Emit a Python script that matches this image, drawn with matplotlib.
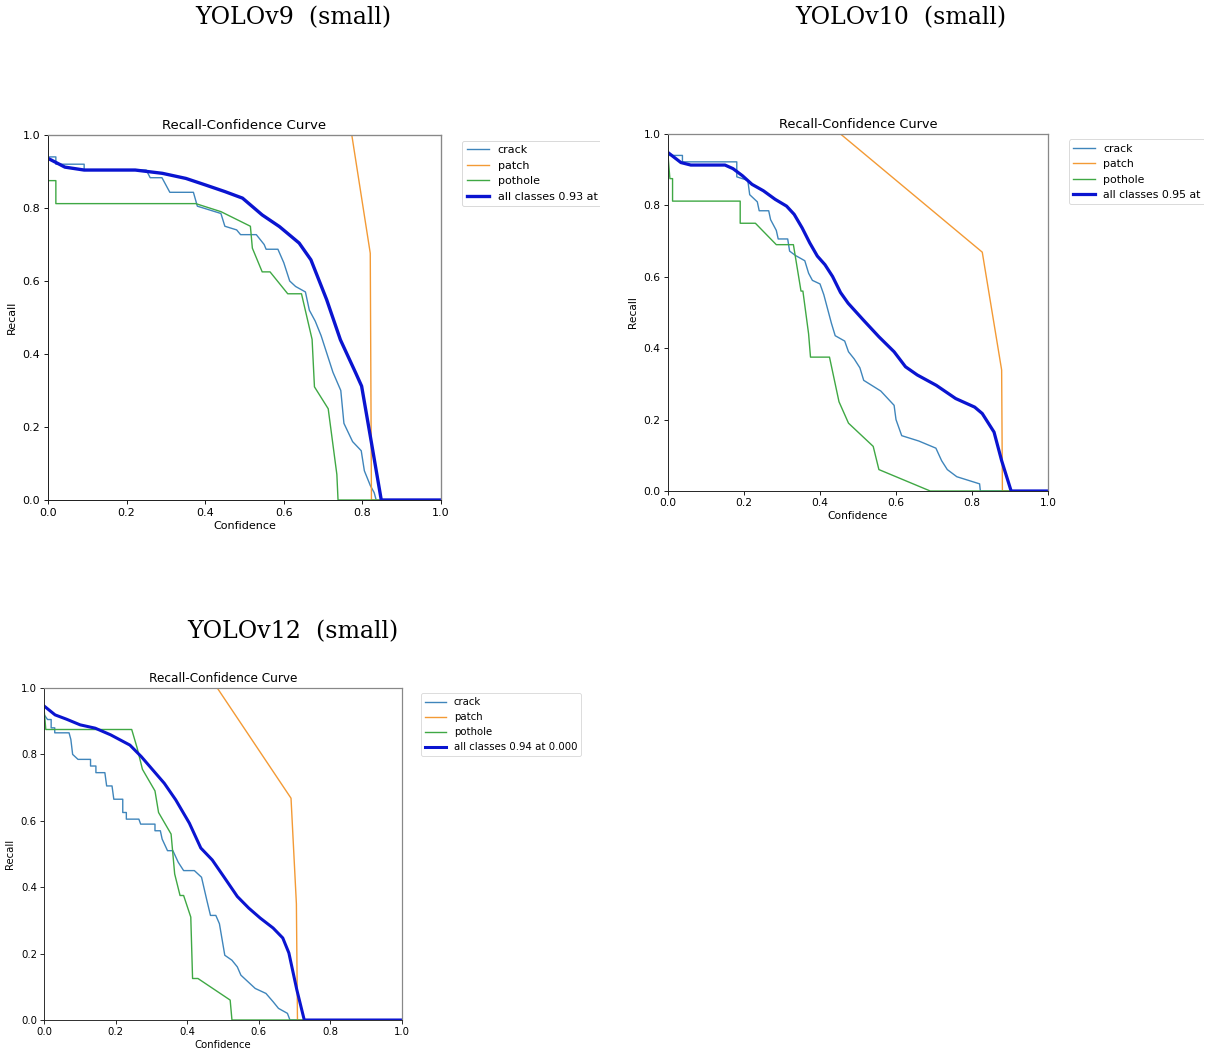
import matplotlib
matplotlib.use("Agg")
import matplotlib.pyplot as plt
from matplotlib.transforms import Bbox, TransformedBbox

# ---------------- data ----------------
classes = ["crack", "patch", "pothole"]
panel_titles = ["YOLOv9  (small)", "YOLOv10  (small)", "YOLOv12  (small)"]
# the first two legends are cut off at the image edge in the reference
all_labels = ["all classes 0.93 at", "all classes 0.95 at", "all classes 0.94 at 0.000"]

# YOLOv9
v9_crack_x = [0, 0.02, 0.02, 0.092, 0.092, 0.25, 0.26, 0.29, 0.31, 0.37, 0.38, 0.44, 0.45, 0.48, 0.49, 0.53,
              0.55, 0.555, 0.585, 0.60, 0.615, 0.63, 0.655, 0.665, 0.68, 0.695, 0.71, 0.725, 0.745, 0.753,
              0.775, 0.797, 0.805, 0.82, 0.83, 0.835, 1.0]
v9_crack_y = [0.94, 0.94, 0.92, 0.92, 0.904, 0.904, 0.883, 0.883, 0.843, 0.843, 0.805, 0.785, 0.75, 0.74, 0.727,
              0.727, 0.70, 0.687, 0.687, 0.65, 0.60, 0.585, 0.57, 0.52, 0.49, 0.45, 0.40, 0.35, 0.30, 0.21,
              0.16, 0.135, 0.08, 0.04, 0.02, 0.0, 0.0]
v9_patch_x = [0, 0.773, 0.820, 0.823, 1.0]
v9_patch_y = [1.0, 1.0, 0.676, 0.0, 0.0]
v9_pothole_x = [0, 0.02, 0.02, 0.376, 0.44, 0.515, 0.52, 0.545, 0.565, 0.61, 0.645, 0.672, 0.678, 0.713,
                0.735, 0.738, 1.0]
v9_pothole_y = [0.875, 0.875, 0.812, 0.812, 0.79, 0.75, 0.69, 0.625, 0.625, 0.565, 0.565, 0.44, 0.31, 0.25,
                0.07, 0.0, 0.0]
v9_all_x = [0, 0.043, 0.092, 0.222, 0.291, 0.351, 0.401, 0.450, 0.495, 0.545, 0.589, 0.639, 0.669, 0.709,
            0.744, 0.783, 0.798, 0.823, 0.848, 1.0]
v9_all_y = [0.936, 0.912, 0.904, 0.904, 0.895, 0.881, 0.863, 0.845, 0.827, 0.781, 0.749, 0.704, 0.658, 0.549,
            0.439, 0.348, 0.312, 0.157, 0.0, 0.0]

# YOLOv10
v10_crack_x = [0, 0.038, 0.038, 0.181, 0.181, 0.21, 0.215, 0.235, 0.24, 0.265, 0.27, 0.285, 0.29, 0.315,
               0.32, 0.335, 0.36, 0.37, 0.38, 0.40, 0.41, 0.42, 0.43, 0.44, 0.465, 0.475, 0.49, 0.505, 0.515,
               0.56, 0.595, 0.60, 0.615, 0.66, 0.705, 0.72, 0.735, 0.76, 0.82, 0.822, 1.0]
v10_crack_y = [0.94, 0.94, 0.922, 0.922, 0.88, 0.87, 0.83, 0.81, 0.785, 0.785, 0.76, 0.73, 0.706, 0.706,
               0.672, 0.66, 0.645, 0.61, 0.59, 0.58, 0.55, 0.51, 0.47, 0.435, 0.42, 0.39, 0.37, 0.345, 0.31,
               0.28, 0.24, 0.20, 0.155, 0.14, 0.12, 0.085, 0.06, 0.04, 0.02, 0.0, 0.0]
v10_patch_x = [0, 0.454, 0.827, 0.878, 0.880, 1.0]
v10_patch_y = [1.0, 1.0, 0.669, 0.339, 0.0, 0.0]
v10_pothole_x = [0, 0.005, 0.012, 0.012, 0.19, 0.19, 0.23, 0.285, 0.33, 0.35, 0.355, 0.37, 0.375, 0.425,
                 0.45, 0.475, 0.54, 0.555, 0.69, 1.0]
v10_pothole_y = [0.94, 0.875, 0.875, 0.812, 0.812, 0.75, 0.75, 0.69, 0.69, 0.56, 0.56, 0.44, 0.375, 0.375,
                 0.25, 0.19, 0.125, 0.06, 0.0, 0.0]
v10_all_x = [0, 0.034, 0.060, 0.150, 0.171, 0.196, 0.221, 0.251, 0.282, 0.312, 0.332, 0.353, 0.373, 0.393,
             0.413, 0.433, 0.454, 0.474, 0.514, 0.555, 0.595, 0.625, 0.656, 0.706, 0.757, 0.807, 0.827,
             0.858, 0.878, 0.903, 1.0]
v10_all_y = [0.948, 0.920, 0.913, 0.913, 0.903, 0.883, 0.859, 0.841, 0.817, 0.798, 0.775, 0.737, 0.695,
             0.658, 0.634, 0.601, 0.556, 0.526, 0.479, 0.432, 0.390, 0.348, 0.325, 0.296, 0.259, 0.235,
             0.217, 0.165, 0.085, 0.0, 0.0]

# YOLOv12
v12_crack_x = [0, 0.01, 0.02, 0.02, 0.03, 0.03, 0.07, 0.075, 0.08, 0.095, 0.13, 0.13, 0.145, 0.145, 0.17,
               0.175, 0.19, 0.195, 0.22, 0.22, 0.23, 0.23, 0.265, 0.27, 0.31, 0.31, 0.325, 0.33, 0.345,
               0.36, 0.375, 0.39, 0.42, 0.44, 0.455, 0.465, 0.48, 0.49, 0.505, 0.525, 0.54, 0.55, 0.57,
               0.59, 0.62, 0.64, 0.655, 0.68, 0.687, 1.0]
v12_crack_y = [0.92, 0.905, 0.905, 0.88, 0.88, 0.865, 0.865, 0.845, 0.80, 0.785, 0.785, 0.765, 0.765,
               0.745, 0.745, 0.705, 0.705, 0.665, 0.665, 0.625, 0.625, 0.605, 0.605, 0.59, 0.59, 0.57,
               0.57, 0.545, 0.51, 0.51, 0.475, 0.45, 0.45, 0.43, 0.36, 0.315, 0.315, 0.29, 0.195, 0.18,
               0.16, 0.135, 0.115, 0.095, 0.08, 0.055, 0.035, 0.02, 0.0, 0.0]
v12_patch_x = [0, 0.484, 0.690, 0.705, 0.708, 1.0]
v12_patch_y = [1.0, 1.0, 0.668, 0.35, 0.0, 0.0]
v12_pothole_x = [0, 0.005, 0.245, 0.26, 0.275, 0.31, 0.32, 0.355, 0.365, 0.38, 0.39, 0.41, 0.415, 0.43,
                 0.52, 0.525, 1.0]
v12_pothole_y = [0.94, 0.875, 0.875, 0.82, 0.755, 0.69, 0.625, 0.56, 0.44, 0.375, 0.375, 0.31, 0.125,
                 0.125, 0.06, 0.0, 0.0]
v12_all_x = [0, 0.031, 0.063, 0.101, 0.143, 0.186, 0.240, 0.272, 0.304, 0.336, 0.368, 0.406, 0.438, 0.470,
             0.502, 0.540, 0.572, 0.604, 0.640, 0.667, 0.684, 0.706, 0.727, 1.0]
v12_all_y = [0.946, 0.919, 0.906, 0.889, 0.879, 0.859, 0.828, 0.793, 0.753, 0.713, 0.663, 0.593, 0.518,
             0.482, 0.432, 0.372, 0.337, 0.307, 0.277, 0.247, 0.202, 0.092, 0.0, 0.0]

panels = [
    dict(crack=(v9_crack_x, v9_crack_y), patch=(v9_patch_x, v9_patch_y),
         pothole=(v9_pothole_x, v9_pothole_y), all=(v9_all_x, v9_all_y)),
    dict(crack=(v10_crack_x, v10_crack_y), patch=(v10_patch_x, v10_patch_y),
         pothole=(v10_pothole_x, v10_pothole_y), all=(v10_all_x, v10_all_y)),
    dict(crack=(v12_crack_x, v12_crack_y), patch=(v12_patch_x, v12_patch_y),
         pothole=(v12_pothole_x, v12_pothole_y), all=(v12_all_x, v12_all_y)),
]

# ---------------- layout ----------------
W, H = 1212, 1052
fig = plt.figure(figsize=(W / 100, H / 100), dpi=100)

# axes rectangles in pixels: left, right, top, bottom
rects_px = [(48, 441, 135, 500), (668, 1048, 134, 491), (44, 402, 688, 1020)]
scales = [0.8, 0.77, 0.73]
legend_sizes = [8.0, 7.8, 7.3]
clip_right = [600, 1204, 1212]
title_pos = [(293, 18), (901, 18), (293, 632)]
colors = {"crack": "#3f85bb", "patch": "#f39a35", "pothole": "#3fa844"}


def clip_tree(a, box):
    a.set_clip_box(box)
    a.set_clip_on(True)
    for ch in a.get_children():
        clip_tree(ch, box)


for i, (l, r, t, b) in enumerate(rects_px):
    s = scales[i]
    ax = fig.add_axes([l / W, 1 - b / H, (r - l) / W, (b - t) / H])
    d = panels[i]
    for c in classes:
        x, y = d[c]
        ax.plot(x, y, color=colors[c], lw=1.0, label=c)
    x, y = d["all"]
    ax.plot(x, y, color="#0a14d0", lw=3.0 * s, label=all_labels[i])
    ax.set_xlim(0, 1)
    ax.set_ylim(0, 1)
    ax.set_xticks([0, 0.2, 0.4, 0.6, 0.8, 1.0])
    ax.set_yticks([0, 0.2, 0.4, 0.6, 0.8, 1.0])
    ax.tick_params(labelsize=10 * s, width=0.8 * s, length=3.5 * s, pad=3.5 * s)
    ax.set_xlabel("Confidence", fontsize=10 * s, labelpad=2)
    ax.set_ylabel("Recall", fontsize=10 * s, labelpad=4)
    ax.set_title("Recall-Confidence Curve", fontsize=12 * s, pad=4)
    for sp in ["left", "bottom"]:
        ax.spines[sp].set_linewidth(0.9 * s)
        ax.spines[sp].set_color("#222222")
    for sp in ["top", "right"]:
        ax.spines[sp].set_linewidth(1.2 * s)
        ax.spines[sp].set_color("#888888")
    leg = ax.legend(bbox_to_anchor=(1.04, 1), loc="upper left", fontsize=legend_sizes[i])
    leg.get_frame().set_linewidth(0.8 * s)
    if i < 2:
        # the reference image is cropped through the legend box
        clipbox = TransformedBbox(Bbox([[0, 0], [clip_right[i] / W, 1]]), fig.transFigure)
        clip_tree(leg, clipbox)

    tx, ty = title_pos[i]
    fig.text(tx / W, 1 - ty / H, panel_titles[i], ha="center", va="center",
             fontsize=17, family="DejaVu Serif")

fig.savefig("out.png", dpi=100)
